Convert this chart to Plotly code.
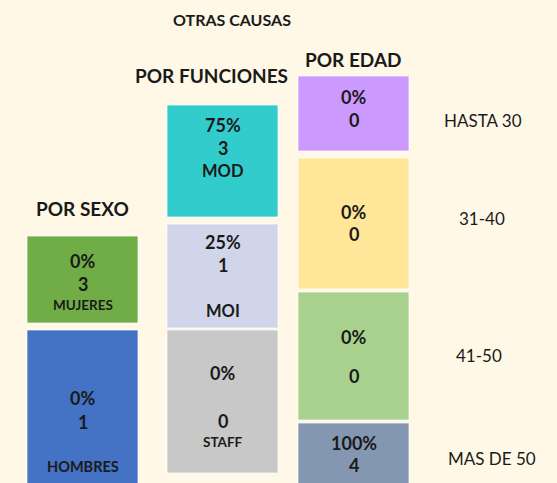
import plotly.graph_objects as go

# ---- data ----
title_main = "OTRAS CAUSAS"
group_titles = ["POR SEXO", "POR FUNCIONES", "POR EDAD"]

sexo_cats = ["MUJERES", "HOMBRES"]
sexo_pct = ["0%", "0%"]
sexo_count = [3, 1]

func_cats = ["MOD", "MOI", "STAFF"]
func_pct = ["75%", "25%", "0%"]
func_count = [3, 1, 0]

edad_cats = ["HASTA 30", "31-40", "41-50", "MAS DE 50"]
edad_pct = ["0%", "0%", "0%", "100%"]
edad_count = [0, 0, 0, 4]

# ---- layout (pixel geometry, styles) ----
W, H = 557, 483
BG = "#FFF8E6"
FONT = "Lato"
TXT = "#1A1A1A"

col_x = [82.5, 222.5, 353.5]
col_w = [111, 111, 111]

sexo_box = [(236, 323), (330, 490)]
func_box = [(105, 217), (224, 328), (330, 473)]
edad_box = [(76, 151), (158, 289), (292, 420), (423, 490)]

sexo_colors = ["#70AD47", "#4472C4"]
func_colors = ["#33CCCC", "#D0D5EA", "#C8C8C8"]
edad_colors = ["#CC99FF", "#FFE699", "#A9D18E", "#8497B0"]

# text y positions: (pct, count, label)
sexo_text_y = [(261, 284, 305), (398, 422, 466)]
func_text_y = [(125, 148, 171), (242, 265, 311), (373, 421, 442)]
edad_text_y = [(97, 120), (212, 234), (337, 376), (443, 465)]
edad_label_pos = [(483, 120), (482, 218), (479, 355), (492, 458)]
sexo_label_size = [13.5, 14.5]
func_label_size = [16.5, 16.5, 13.5]

fig = go.Figure()

def add_boxes(cx, w, boxes, colors, names):
    for (top, bot), c, n in zip(boxes, colors, names):
        fig.add_trace(go.Bar(
            x=[cx], y=[bot - top], base=[top], width=[w],
            marker=dict(color=c, line=dict(color="rgba(255,255,255,0.7)", width=1)),
            name=n, showlegend=False, hoverinfo="name",
        ))

add_boxes(col_x[0], col_w[0], sexo_box, sexo_colors, sexo_cats)
add_boxes(col_x[1], col_w[1], func_box, func_colors, func_cats)
add_boxes(col_x[2], col_w[2], edad_box, edad_colors, edad_cats)

anns = []
def txt(x, y, s, size, bold=True):
    anns.append(dict(x=x, y=y, xref="x", yref="y", text=s, showarrow=False,
                     xanchor="center", yanchor="middle",
                     font=dict(family=FONT, size=size, color=TXT,
                               weight="bold" if bold else "normal")))

txt(232, 19, title_main, 16)
txt(82, 208, group_titles[0], 19)
txt(211, 75, group_titles[1], 19)
txt(353, 59, group_titles[2], 19)

for i in range(len(sexo_cats)):
    yp, yc, yl = sexo_text_y[i]
    txt(col_x[0], yp, sexo_pct[i], 18)
    txt(col_x[0], yc, str(sexo_count[i]), 18)
    txt(col_x[0], yl, sexo_cats[i], sexo_label_size[i])

for i in range(len(func_cats)):
    yp, yc, yl = func_text_y[i]
    txt(col_x[1], yp, func_pct[i], 18)
    txt(col_x[1], yc, str(func_count[i]), 18)
    txt(col_x[1], yl, func_cats[i], func_label_size[i])

for i in range(len(edad_cats)):
    yp, yc = edad_text_y[i]
    txt(col_x[2], yp, edad_pct[i], 18)
    txt(col_x[2], yc, str(edad_count[i]), 18)
    lx, ly = edad_label_pos[i]
    txt(lx, ly, edad_cats[i], 17, bold=False)

fig.update_layout(
    width=W, height=H,
    margin=dict(l=0, r=0, t=0, b=0),
    paper_bgcolor=BG, plot_bgcolor=BG,
    barmode="overlay",
    xaxis=dict(range=[0, W], visible=False, fixedrange=True),
    yaxis=dict(range=[H, 0], visible=False, fixedrange=True),
    annotations=anns,
)

fig.write_html(
    "out.html",
    config={"displayModeBar": False},
    post_script="document.body.style.margin='0';document.body.style.background='%s';" % BG,
)
